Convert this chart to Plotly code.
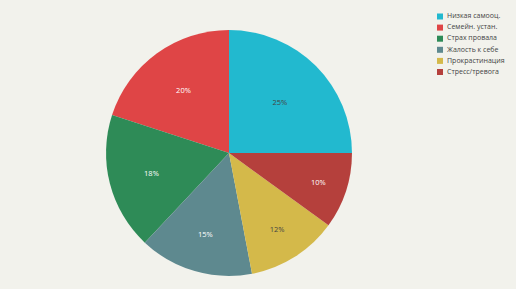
import plotly.graph_objects as go

labels = ["Низкая самооц.", "Семейн. устан.", "Страх провала", "Жалость к себе", "Прокрастинация", "Стресс/тревога"]
values = [25, 20, 18, 15, 12, 10]
colors = ["#22B9CF", "#DF4546", "#2E8B57", "#5E898F", "#D4B94A", "#B5403C"]

W, H = 516, 289
fig = go.Figure()
fig.add_trace(go.Pie(
    labels=labels,
    values=values,
    sort=False,
    direction="counterclockwise",
    rotation=0,
    marker=dict(colors=colors, line=dict(width=0)),
    texttemplate="%{value}%",
    textposition="inside",
    insidetextfont=dict(size=7.5),
    domain=dict(x=[0.1, 0.7876], y=[0.045, 0.896]),
    hoverinfo="label+percent",
    showlegend=False,
))

# custom compact legend (pixel-mapped hidden axes)
leg_x = 440
leg_text_x = 447
leg_y0 = 16.5
leg_step = 11.1
leg_y = [leg_y0 + i * leg_step for i in range(len(labels))]
fig.add_trace(go.Scatter(
    x=[leg_x] * len(labels), y=leg_y,
    mode="markers",
    marker=dict(symbol="square", size=6, color=colors),
    hoverinfo="skip", showlegend=False, cliponaxis=False,
))
fig.add_trace(go.Scatter(
    x=[leg_text_x] * len(labels), y=leg_y,
    mode="text",
    text=labels,
    textposition="middle right",
    textfont=dict(size=7, color="#444444"),
    hoverinfo="skip", showlegend=False, cliponaxis=False,
))

fig.update_layout(
    width=W, height=H,
    margin=dict(l=0, r=0, t=0, b=0),
    paper_bgcolor="#F2F2EC",
    plot_bgcolor="rgba(0,0,0,0)",
    font=dict(family="Open Sans", size=8, color="#444444"),
    xaxis=dict(range=[0, W], visible=False, fixedrange=True),
    yaxis=dict(range=[H, 0], visible=False, fixedrange=True),
    showlegend=False,
)

fig.write_html("out.html")
